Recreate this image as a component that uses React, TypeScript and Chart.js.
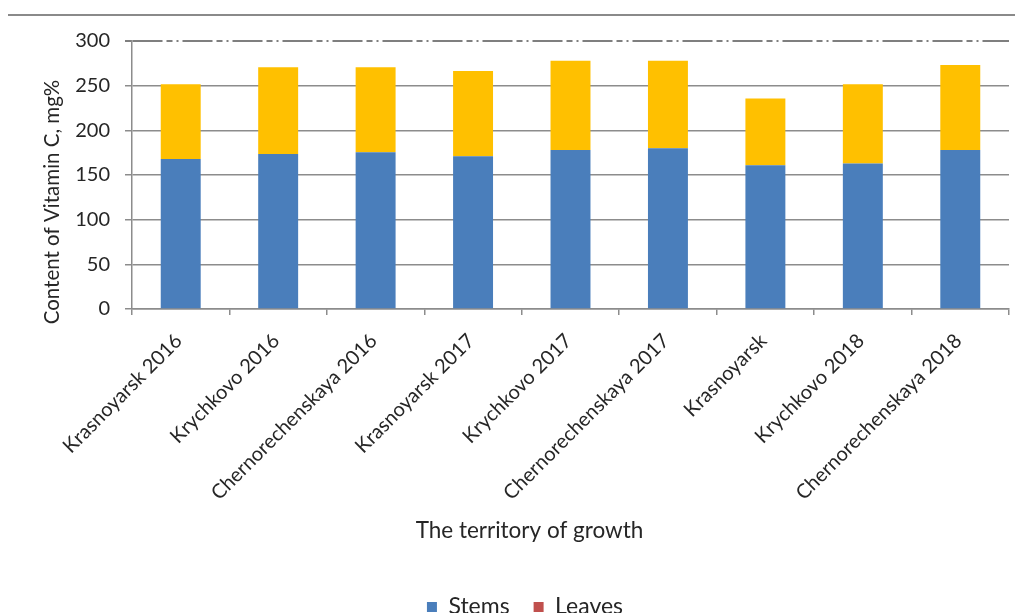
import React, { useEffect, useRef } from "react";
import { Chart, registerables } from "chart.js";

Chart.register(...registerables);

const categories = [
  "Krasnoyarsk 2016",
  "Krychkovo 2016",
  "Chernorechenskaya 2016",
  "Krasnoyarsk 2017",
  "Krychkovo 2017",
  "Chernorechenskaya 2017",
  "Krasnoyarsk",
  "Krychkovo 2018",
  "Chernorechenskaya 2018",
];
const stems = [168, 173.5, 175.5, 171, 178, 180, 161, 163, 178];
const leaves = [83.5, 97, 95, 95.5, 100, 98, 74.5, 88.5, 95];
const seriesNames = ["Stems", "Leaves"];
const barColors = ["#4a7ebb", "#ffc000"];
const legendColors = ["#4a7ebb", "#c0504d"];
const yTicks = [0, 50, 100, 150, 200, 250, 300];
const yMax = 300;
const xTitle = "The territory of growth";
const yTitle = "Content of Vitamin C, mg%";

const FONT = "Lato, 'Open Sans', sans-serif";
const TEXT = "#262626";
const GRID = "#8c8c8c";

const titlesPlugin = {
  id: "titlesPlugin",
  afterDraw(chart: any) {
    const { ctx, chartArea } = chart;
    ctx.save();
    ctx.fillStyle = TEXT;
    ctx.textAlign = "center";
    ctx.textBaseline = "middle";
    // y-axis title
    ctx.save();
    ctx.translate(chartArea.left - 80, (chartArea.top + chartArea.bottom) / 2 + 27);
    ctx.rotate(-Math.PI / 2);
    ctx.font = `20.5px ${FONT}`;
    ctx.fillText(yTitle, 0, 0);
    ctx.restore();
    // x-axis title
    ctx.font = `22.5px ${FONT}`;
    ctx.fillText(xTitle, (chartArea.left + chartArea.right) / 2 - 41, chartArea.bottom + 222);
    ctx.restore();
  },
};

export default function App() {
  const ref = useRef<HTMLCanvasElement>(null);
  useEffect(() => {
    if (!ref.current) return;
    const chart = new Chart(ref.current, {
      type: "bar",
      data: {
        labels: categories,
        datasets: [
          { label: seriesNames[0], data: stems, backgroundColor: barColors[0], barPercentage: 0.41, categoryPercentage: 1 },
          { label: seriesNames[1], data: leaves, backgroundColor: barColors[1], barPercentage: 0.41, categoryPercentage: 1 },
        ],
      },
      options: {
        animation: false,
        responsive: false,
        maintainAspectRatio: false,
        layout: { padding: { top: 41, right: 6, left: 41, bottom: -15.5 } },
        plugins: {
          tooltip: { enabled: false },
          legend: {
            display: true,
            position: "bottom",
            labels: {
              font: { family: FONT, size: 23 },
              color: TEXT,
              boxWidth: 10,
              boxHeight: 10,
              padding: 24,
              generateLabels: () =>
                seriesNames.map((n, i) => ({
                  text: n,
                  fillStyle: legendColors[i],
                  strokeStyle: legendColors[i],
                  lineWidth: 0,
                  hidden: false,
                  datasetIndex: i,
                  fontColor: TEXT,
                })),
            },
          },
        },
        scales: {
          x: {
            stacked: true,
            afterFit: (s: any) => {
              s.height = 262.5;
            },
            grid: { display: true, drawOnChartArea: false, drawTicks: true, tickLength: 6, color: GRID, lineWidth: 1.5 },
            border: { display: true, color: GRID, width: 1.5 },
            ticks: {
              font: { family: FONT, size: 20 },
              color: TEXT,
              maxRotation: 45,
              minRotation: 45,
              autoSkip: false,
              padding: 14,
              labelOffset: -2,
            },
          },
          y: {
            stacked: true,
            min: 0,
            max: yMax,
            afterFit: (s: any) => {
              s.width = 91;
            },
            afterBuildTicks: (s: any) => {
              s.ticks = yTicks.map((v) => ({ value: v }));
            },
            grid: {
              color: (ctx: any) => (ctx.tick && ctx.tick.value === yMax ? "#7f7f7f" : GRID),
              lineWidth: (ctx: any) => (ctx.tick && ctx.tick.value === yMax ? 2 : 1.5),
              tickLength: 7,
              drawTicks: true,
            },
            border: {
              display: true,
              color: GRID,
              width: 1.5,
              dash: (ctx: any) => (ctx.tick && ctx.tick.value === yMax ? [30, 4, 6, 4, 2, 4] : []),
            },
            ticks: {
              font: { family: FONT, size: 20 },
              color: TEXT,
              padding: 15,
            },
          },
        },
      },
      plugins: [titlesPlugin],
    });
    return () => chart.destroy();
  }, []);

  return (
    <div style={{ position: "fixed", left: 0, top: 0, width: 1015, height: 613, background: "#fff" }}>
      <div style={{ position: "absolute", left: 8, right: 0, top: 14, height: 2, background: "#8a8a8a" }} />
      <canvas ref={ref} width={1015} height={613} style={{ position: "absolute", left: 0, top: 0 }} />
    </div>
  );
}
